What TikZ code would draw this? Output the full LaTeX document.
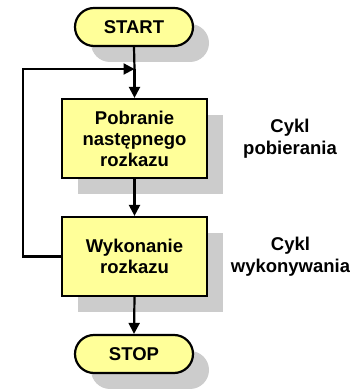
\documentclass[tikz,border=0pt]{standalone}
\usepackage{fontspec}
\setmainfont{Liberation Sans}
\usetikzlibrary{arrows.meta,shadows,positioning}
\definecolor{boxfill}{HTML}{FFFF99}
\definecolor{shadowgray}{HTML}{CCCCCC}
\tikzset{
  myshadow/.style={general shadow={shadow xshift=16pt, shadow yshift=-16pt, fill=shadowgray}},
  term/.style={draw, line width=2.2pt, fill=boxfill, rounded corners=19pt, minimum width=118pt, minimum height=38pt, inner sep=0pt, myshadow, font=\fontsize{18.5}{21}\selectfont\bfseries},
  procbox/.style={draw, line width=2.2pt, fill=boxfill, minimum width=145pt, minimum height=79pt, inner sep=0pt, align=center, myshadow, font=\fontsize{18.5}{21}\selectfont\bfseries},
  lbl/.style={align=center, inner sep=0pt, font=\fontsize{18.5}{22}\selectfont\bfseries},
  conn/.style={line width=2.2pt},
  arr/.style={conn, -{Triangle[length=11pt,width=11pt]}}
}
\begin{document}
\begin{tikzpicture}[x=1pt,y=1pt]
\useasboundingbox (0,0) rectangle (349,390);
\node[term] (start) at (134,363) {START};
\node[procbox] (pob) at (134.5,251.5) {Pobranie\\następnego\\rozkazu};
\node[procbox] (wyk) at (134.5,133.5) {Wykonanie\\rozkazu};
\node[term] (stop) at (134,36) {STOP};
\node[lbl] (c1) at (290,251.5) {Cykl\\pobierania};
\node[lbl] (c2) at (290.5,133.5) {Cykl\\wykonywania};
\coordinate (j) at (134.5,321);
\coordinate (corner) at (23,321);
\draw[conn] (start.south) -- (j);
\draw[arr] (j) -- (pob.north);
\draw[arr] (pob.south) -- (wyk.north);
\draw[arr] (wyk.south) -- (stop.north);
\draw[arr] (wyk.west) -| (corner) -- (j);
\end{tikzpicture}
\end{document}
